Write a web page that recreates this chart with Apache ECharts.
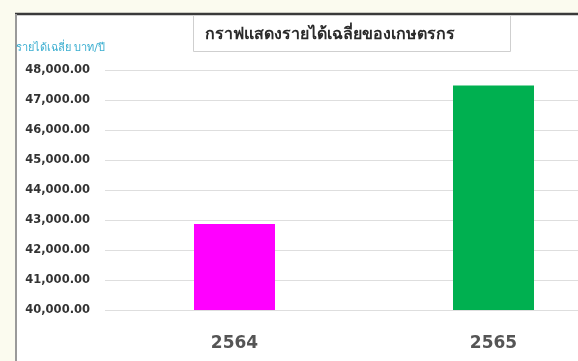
<!DOCTYPE html>
<html>
<head>
<meta charset="utf-8">
<script src="https://cdn.jsdelivr.net/npm/echarts@6/dist/echarts.min.js"></script>
<style>
html,body{margin:0;padding:0;background:#fbfbef;overflow:hidden;width:578px;height:361px;}
#c{width:624px;height:361px;}
</style>
</head>
<body>
<div id="c"></div>
<script>
const categories = ['2564', '2565'];
const incomeValues = [42870, 47480];
const barColors = ['#ff00ff', '#00b050'];
const titleText = 'กราฟแสดงรายได้เฉลี่ยของเกษตรกร';
const yAxisName = 'รายได้เฉลี่ย บาท/ปี';
const yMin = 40000, yMax = 48000, yStep = 1000;

const chart = echarts.init(document.getElementById('c'), null, {renderer: 'canvas'});
chart.setOption({
  backgroundColor: '#fbfbef',
  animation: false,
  title: {
    text: titleText,
    left: 205, top: 27, padding: 0,
    textStyle: {fontSize: 16, fontWeight: 'bold', color: '#2a2a2a', fontFamily: 'Tahoma, "DejaVu Sans", sans-serif'}
  },
  graphic: {elements: [
    {type: 'rect', z: -10, shape: {x: 16, y: 15, width: 700, height: 400}, style: {fill: '#ffffff'}},
    {type: 'line', z: -9, shape: {x1: 15, y1: 14, x2: 700, y2: 14}, style: {stroke: '#3a3a3a', lineWidth: 2.5}},
    {type: 'line', z: -9, shape: {x1: 16, y1: 14, x2: 16, y2: 361}, style: {stroke: '#9a9a9a', lineWidth: 2}},
    {type: 'rect', z: -8, shape: {x: 193.5, y: 15.5, width: 317, height: 36}, style: {fill: '#ffffff', stroke: '#cfcfcf', lineWidth: 1}}
  ]},
  grid: {left: 105, top: 70, width: 518, height: 240, containLabel: false},
  xAxis: {
    type: 'category',
    data: categories,
    axisLine: {show: false},
    axisTick: {show: false},
    axisLabel: {margin: 25, fontSize: 17, fontWeight: 'bold', color: '#555', fontFamily: '"DejaVu Sans", sans-serif'}
  },
  yAxis: {
    type: 'value',
    min: yMin, max: yMax, interval: yStep,
    name: yAxisName,
    nameLocation: 'end',
    nameGap: 16,
    nameTextStyle: {align: 'right', color: '#3aaed0', fontSize: 11, fontFamily: 'Tahoma, "DejaVu Sans", sans-serif'},
    axisLine: {show: false},
    axisTick: {show: false},
    splitLine: {lineStyle: {color: '#dedede', width: 1}},
    axisLabel: {
      margin: 15, fontSize: 11.5, fontWeight: 'bold', color: '#333',
      fontFamily: '"DejaVu Sans", sans-serif',
      formatter: v => v.toLocaleString('en-US', {minimumFractionDigits: 2, maximumFractionDigits: 2})
    }
  },
  series: [{
    type: 'bar',
    barWidth: 81,
    data: incomeValues.map((v, i) => ({value: v, itemStyle: {color: barColors[i]}}))
  }]
});
</script>
</body>
</html>
